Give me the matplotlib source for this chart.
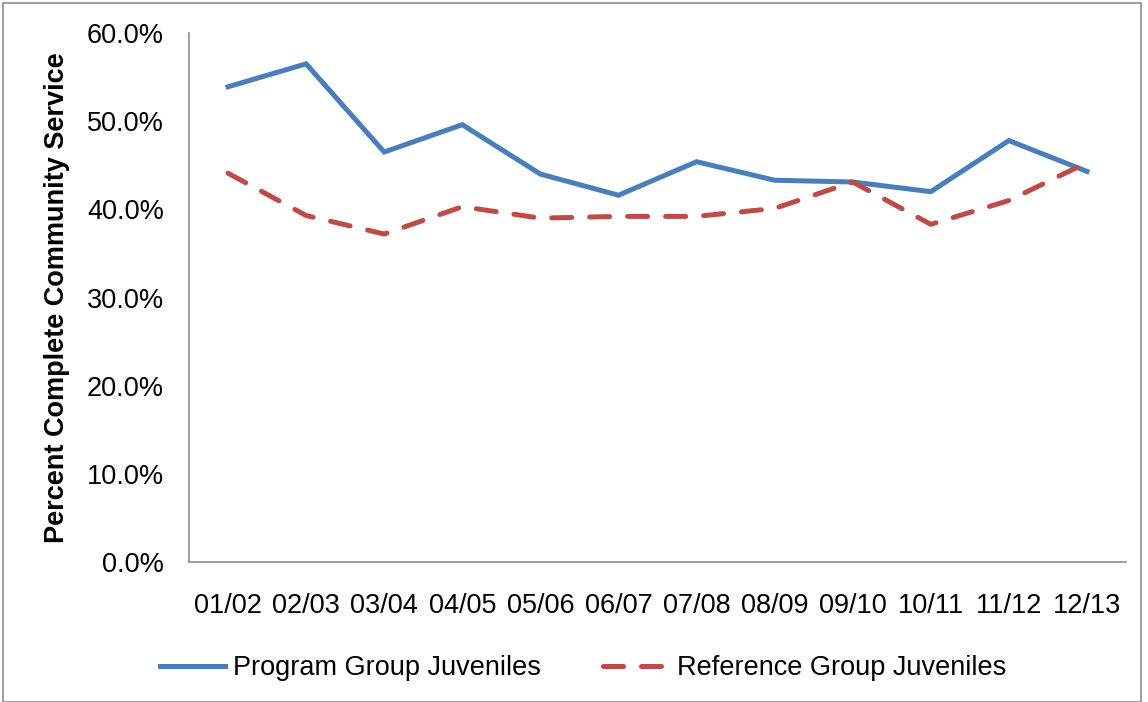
"""Community service completion, program vs reference group."""
import matplotlib
matplotlib.use("Agg")
import matplotlib.pyplot as plt
from matplotlib.patches import Rectangle
from matplotlib.ticker import FuncFormatter

plt.rcParams["font.family"] = ["Liberation Sans", "DejaVu Sans"]

YEARS = ["01/02", "02/03", "03/04", "04/05", "05/06", "06/07",
         "07/08", "08/09", "09/10", "10/11", "11/12", "12/13"]
PROGRAM = [53.9, 56.5, 46.5, 49.6, 44.0, 41.6, 45.4, 43.3, 43.1, 42.0, 47.8, 44.3]
REFERENCE = [44.1, 39.3, 37.2, 40.3, 39.0, 39.2, 39.2, 40.1, 43.1, 38.3, 41.0, 45.3]

W, H = 1148, 702
FS = 19.5
fig = plt.figure(figsize=(W / 100, H / 100), dpi=100)
ax = fig.add_axes([189 / W, 1 - 562 / H, (1126 - 189) / W, (562 - 33) / H])

x = range(len(YEARS))
ax.plot(x, PROGRAM, color="#4a7ebb", lw=3.6, solid_joinstyle="miter",
        label="Program Group Juveniles")
ax.plot(x, REFERENCE, color="#be4b48", lw=3.6, dashes=(4, 3.6), dash_capstyle="round",
        label="Reference Group Juveniles")

ax.set_xlim(-0.5, len(YEARS) - 0.5)
ax.set_ylim(0, 60)
ax.set_yticks(range(0, 61, 10))
ax.yaxis.set_major_formatter(FuncFormatter(lambda v, _: "%.1f%%" % v))
ax.set_xticks(list(x))
ax.set_xticklabels(YEARS)
ax.tick_params(length=0, labelsize=FS)
ax.tick_params(axis="x", pad=22)
ax.tick_params(axis="y", pad=18)
for s in ("top", "right"):
    ax.spines[s].set_visible(False)
for s in ("left", "bottom"):
    ax.spines[s].set_color("#8c8c8c")
    ax.spines[s].set_linewidth(1.2)
ax.set_ylabel("Percent Complete Community Service", fontsize=FS, fontweight="bold", labelpad=12)

ax.legend(loc="center", bbox_to_anchor=(583 / W, 1 - 668 / H), bbox_transform=fig.transFigure,
          ncol=2, frameon=False, fontsize=FS, handlelength=2.4, columnspacing=2.3,
          handletextpad=0.3)

fig.patches.append(Rectangle((3 / W, 0), (1141 - 3) / W, 1 - 3 / H, transform=fig.transFigure,
                             fill=False, edgecolor="#8c8c8c", lw=1.2))
fig.savefig("out.png", dpi=100)
